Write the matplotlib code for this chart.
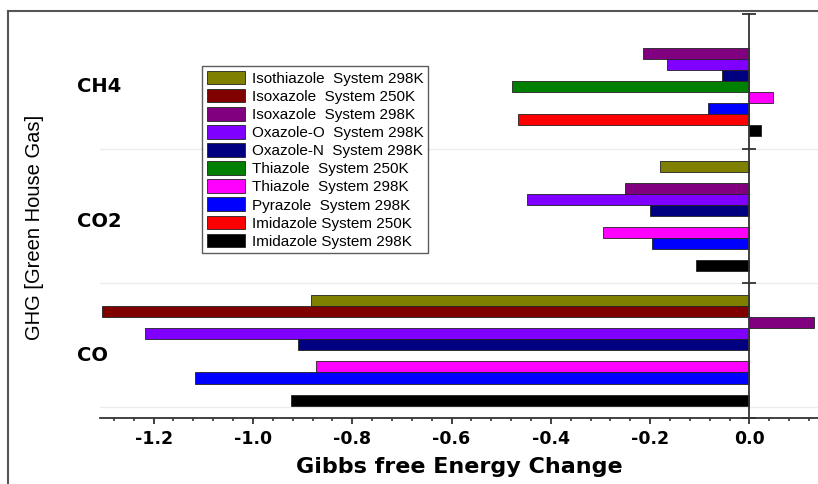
import numpy as np
import matplotlib
matplotlib.use("Agg")
import matplotlib.pyplot as plt
from matplotlib.lines import Line2D
from matplotlib.patches import Patch
from matplotlib.ticker import MultipleLocator
import matplotlib.transforms as mtransforms

plt.rcParams['font.family'] = ['Liberation Sans', 'DejaVu Sans']
BOLD_FONT = ['DejaVu Sans']

gases = ["CH4", "CO2", "CO"]

systems = [
    "Isothiazole  System 298K",
    "Isoxazole  System 250K",
    "Isoxazole  System 298K",
    "Oxazole-O  System 298K",
    "Oxazole-N  System 298K",
    "Thiazole  System 250K",
    "Thiazole  System 298K",
    "Pyrazole  System 298K",
    "Imidazole System 250K",
    "Imidazole System 298K",
]

colors = ["#808000", "#800000", "#800080", "#8000ff", "#000080",
          "#008000", "#ff00ff", "#0000ff", "#ff0000", "#000000"]

# Gibbs free energy change per system, ordered CH4, CO2, CO (nan = not computed)
isothiazole_298 = [np.nan, -0.180, -0.884]
isoxazole_250 = [np.nan, np.nan, -1.304]
isoxazole_298 = [-0.214, -0.250, 0.130]
oxazole_o_298 = [-0.166, -0.449, -1.218]
oxazole_n_298 = [-0.055, -0.200, -0.909]
thiazole_250 = [-0.478, np.nan, np.nan]
thiazole_298 = [0.048, -0.296, -0.873]
pyrazole_298 = [-0.083, -0.196, -1.117]
imidazole_250 = [-0.467, np.nan, np.nan]
imidazole_298 = [0.024, -0.107, -0.924]

series = [isothiazole_298, isoxazole_250, isoxazole_298, oxazole_o_298,
          oxazole_n_298, thiazole_250, thiazole_298, pyrazole_298,
          imidazole_250, imidazole_298]

xtick_vals = [-1.2, -1.0, -0.8, -0.6, -0.4, -0.2, 0.0]
xtick_text = ["-1.2", "-1.0", "-0.8", "-0.6", "-0.4", "-0.2", "0.0"]

fig = plt.figure(figsize=(8.18, 4.84), dpi=100)
ax = fig.add_axes([100 / 818, 66.3 / 484, 718 / 818, 403.7 / 484])

bar_h = 0.082
margin = 0.09
group_pos = np.arange(len(gases))
for k, (vals, col) in enumerate(zip(series, colors)):
    y = group_pos - 0.5 + margin + (k + 0.5) * bar_h
    vals = np.asarray(vals, dtype=float)
    ok = ~np.isnan(vals)
    ax.barh(y[ok], vals[ok], height=bar_h, color=col,
            edgecolor="#222222", linewidth=0.6, zorder=2)

ax.set_xlim(-1.308, 0.138)
ax.set_ylim(2.5, -0.5)

# faint separators between the gas groups
for b in [0.5, 1.5, 2.42]:
    ax.axhline(b, color="#ececec", linewidth=1.0, zorder=0)

# y axis sits on x = 0, ticks mark group boundaries
ax.spines['left'].set_position(('data', 0))
ax.spines['left'].set_zorder(3)
ax.spines['left'].set_linewidth(1.3)
ax.spines['left'].set_color("#333333")
ax.spines['top'].set_visible(False)
ax.spines['right'].set_visible(False)
ax.spines['bottom'].set_linewidth(1.3)
ax.spines['bottom'].set_color("#333333")

ax.set_yticks([-0.5, 0.5, 1.5, 2.5])
ax.set_yticklabels([])
ax.tick_params(axis='y', direction='inout', length=10, width=1.3, color="#333333")

ax.xaxis.set_minor_locator(MultipleLocator(0.04))
ax.set_xticks(xtick_vals)
ax.set_xticklabels(xtick_text, fontweight='bold', family=BOLD_FONT, fontsize=12.5)
ax.tick_params(axis='x', which='major', direction='out', length=4.5, width=1.3,
               color="#333333", pad=4)
ax.tick_params(axis='x', which='minor', direction='out', length=2.2, width=1.2,
               color="#333333")

ax.set_xlabel("Gibbs free Energy Change", fontsize=16, fontweight='bold',
              family=BOLD_FONT, labelpad=7)

fig.text(35 / 818, 1 - 227 / 484, "GHG [Green House Gas]", rotation=90,
         ha='center', va='center', fontsize=14.5,
         family=['Liberation Sans Narrow', 'Liberation Sans', 'DejaVu Sans'])

# gas names beside each group
trans = mtransforms.blended_transform_factory(ax.transAxes, ax.transData)
for g, name in zip(group_pos, gases):
    ax.text(-23 / 718, g + 0.04, name, transform=trans, ha='left', va='center',
            fontsize=14, fontweight='bold', family=BOLD_FONT, clip_on=False)

handles = [Patch(facecolor=c, edgecolor="#222222", linewidth=0.6) for c in colors]
leg = ax.legend(handles, systems, loc='upper left',
                bbox_to_anchor=((202 - 100) / 718, 1 - (66 - 14) / 403.7),
                prop={'size': 11}, frameon=True, fancybox=False, borderpad=0.3,
                labelspacing=0.2, handlelength=2.5, handleheight=1.0,
                handletextpad=0.45, borderaxespad=0)
leg.get_frame().set_edgecolor("#333333")
leg.get_frame().set_linewidth(1.0)

# outer frame around the figure
fig.add_artist(Line2D([8 / 818, 1], [1 - 11 / 484] * 2, transform=fig.transFigure,
                      color="#555555", linewidth=1.5))
fig.add_artist(Line2D([8 / 818] * 2, [0, 1 - 11 / 484], transform=fig.transFigure,
                      color="#555555", linewidth=1.5))

fig.savefig("out.png", dpi=100)
